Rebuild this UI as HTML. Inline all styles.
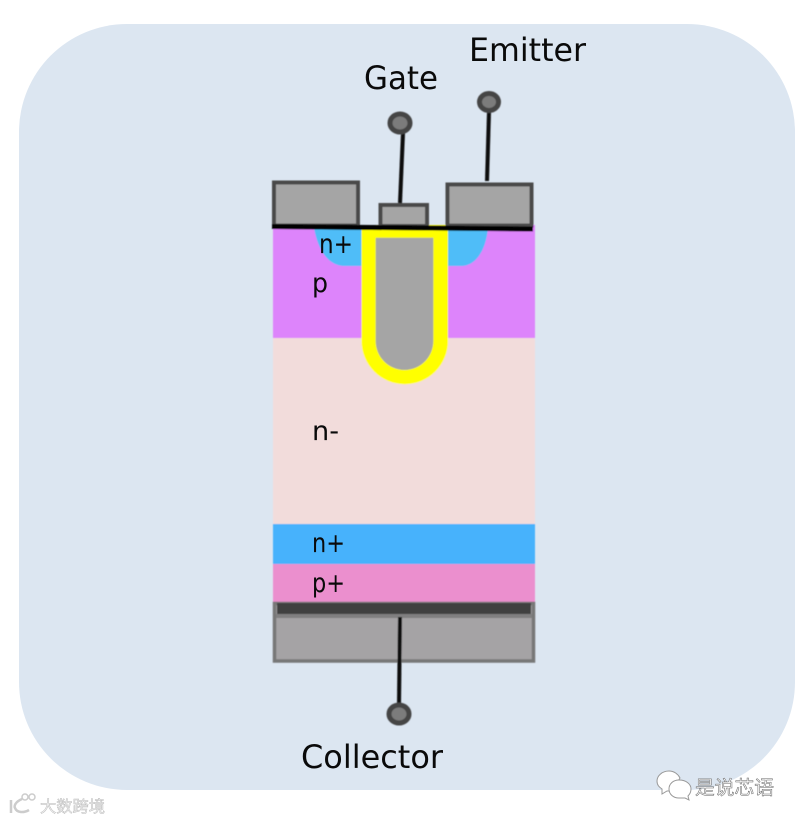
<!DOCTYPE html>
<html>
<head>
<meta charset="utf-8">
<style>
html,body{margin:0;padding:0;background:#fff;width:800px;height:821px;overflow:hidden}
svg{display:block}
text{font-family:"DejaVu Sans","Liberation Sans",sans-serif;fill:#0a0a0a}
.cjk{font-family:"Liberation Sans","Noto Sans CJK SC",sans-serif}
</style>
</head>
<body>
<svg width="800" height="821" viewBox="0 0 800 821" xmlns="http://www.w3.org/2000/svg">
<defs><filter id="b" x="-5%" y="-5%" width="110%" height="110%"><feGaussianBlur stdDeviation="0.5"/></filter></defs>
<rect x="19" y="24" width="776" height="766" rx="108" ry="108" fill="#dce6f1"/>
<g filter="url(#b)">
<rect x="273" y="225" width="262" height="113" fill="#dd84fb"/>
<rect x="273" y="338" width="262" height="186" fill="#f2dcdb"/>
<rect x="273" y="524" width="262" height="40" fill="#46b2fc"/>
<rect x="273" y="564" width="262" height="38" fill="#eb8fce"/>
<path d="M314 228 C318 250 328 266 345 266 L362 266 L362 228 Z" fill="#50bdf8"/>
<path d="M448 228 L488 228 C486 250 476 266 461 266 L448 266 Z" fill="#50bdf8"/>
<path d="M361.5 225 H448 V341 A43.25 43.25 0 0 1 361.5 341 Z" fill="#ffff00"/>
<path d="M375.7 237.7 H433.3 V341 A28.8 29 0 0 1 375.7 341 Z" fill="#a5a5a5"/>
<rect x="274" y="182.5" width="84" height="43" fill="#a5a5a5" stroke="#484848" stroke-width="4"/>
<rect x="447.5" y="184.5" width="84" height="41" fill="#a5a5a5" stroke="#484848" stroke-width="4"/>
<rect x="380.5" y="205" width="46.5" height="21" fill="#a5a5a5" stroke="#484848" stroke-width="4"/>
<path d="M272 226.5 L533 229" stroke="#000" stroke-width="5" fill="none"/>
<rect x="274.5" y="603.5" width="259" height="57.5" fill="#a5a3a5" stroke="#777" stroke-width="3.5"/>
<rect x="276" y="614" width="256" height="4" fill="#807f80"/>
<rect x="277" y="603" width="254" height="11" fill="#404040"/>
<path d="M403 133 L400 203" stroke="#0a0a0a" stroke-width="4" fill="none"/>
<path d="M489 112 L487 181" stroke="#0a0a0a" stroke-width="4" fill="none"/>
<path d="M400 617 L399 704" stroke="#0a0a0a" stroke-width="4" fill="none"/>
<ellipse cx="400" cy="123" rx="10" ry="9" fill="#7c7c7c" stroke="#454545" stroke-width="5"/>
<ellipse cx="489" cy="102" rx="9.5" ry="8.5" fill="#7c7c7c" stroke="#454545" stroke-width="5"/>
<ellipse cx="399" cy="714" rx="10" ry="9" fill="#7c7c7c" stroke="#454545" stroke-width="5"/>
</g>
<text x="364" y="89" font-size="32" textLength="74" lengthAdjust="spacingAndGlyphs">Gate</text>
<text x="469" y="61" font-size="32" textLength="117" lengthAdjust="spacingAndGlyphs">Emitter</text>
<text x="301" y="768" font-size="32" textLength="142" lengthAdjust="spacingAndGlyphs">Collector</text>
<text x="319" y="253" font-size="27" textLength="34" lengthAdjust="spacingAndGlyphs">n+</text>
<text x="312" y="292" font-size="27" textLength="16" lengthAdjust="spacingAndGlyphs">p</text>
<text x="312" y="440" font-size="27" textLength="27" lengthAdjust="spacingAndGlyphs">n-</text>
<text x="312" y="552" font-size="27" textLength="33" lengthAdjust="spacingAndGlyphs">n+</text>
<text x="312" y="592" font-size="27" textLength="33" lengthAdjust="spacingAndGlyphs">p+</text>
<g fill="#fff" stroke="#999" stroke-width="1">
<path d="M669 771 C662 771 657 776 657 781 C657 785 659 787 662 789 L662 794 L667 791 L672 791 L680 778 C678 774 674 771 669 771 Z"/>
<path d="M679 780 C673 780 669 784 669 789 C669 794 673 798 679 798 L685 798 L689 800 L688 796 C690 794 691 792 691 789 C691 784 686 780 679 780 Z"/>
</g>
<text class="cjk" x="695" y="794" font-size="19" style="fill:#fff;stroke:#666;stroke-width:.5" textLength="79" lengthAdjust="spacingAndGlyphs">是说芯语</text>
<path d="M11 800 V813 M22 799 C15 802 14 806 15 808 C17 813 24 813 29 810" stroke="#ccc" stroke-width="2.5" fill="none"/>
<circle cx="25" cy="797" r="3" fill="none" stroke="#ccc" stroke-width="1.5"/>
<circle cx="32" cy="797" r="3" fill="none" stroke="#ccc" stroke-width="1.5"/>
<text class="cjk" x="40" y="812" font-size="16" style="fill:#f4f4f4;stroke:#bbb;stroke-width:.5" textLength="65" lengthAdjust="spacingAndGlyphs">大数跨境</text>
</svg>
</body>
</html>
